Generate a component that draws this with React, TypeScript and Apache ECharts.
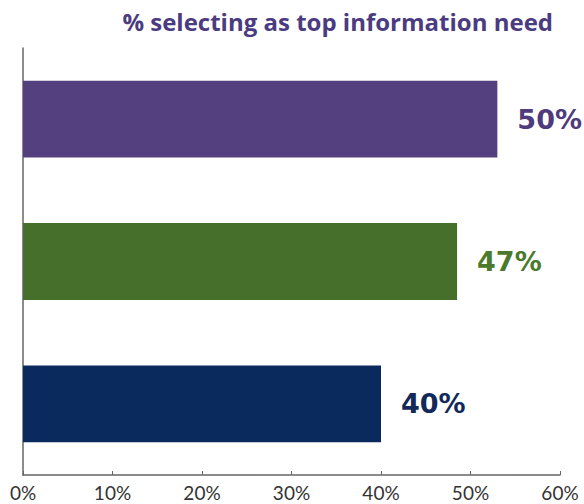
import React, { useEffect, useRef } from "react";
import * as echarts from "echarts";

const categories = ["Item A", "Item B", "Item C"];
// bar lengths as drawn in the picture (percent)
const barValues = [53, 48.5, 40];
// value labels printed beside the bars
const valueLabels = ["50%", "47%", "40%"];
const barColors = ["#55407f", "#476f2c", "#0a2a5e"];
const labelColors = ["#4e3a7c", "#4b7a2c", "#13295a"];
const xTicks = [0, 10, 20, 30, 40, 50, 60];
const title = "% selecting as top information need";

export default function App() {
  const ref = useRef<HTMLDivElement>(null);
  useEffect(() => {
    document.body.style.margin = "0";
    if (!ref.current) return;
    const chart = echarts.init(ref.current, null, { renderer: "svg" });
    chart.setOption({
      animation: false,
      backgroundColor: "#ffffff",
      title: {
        text: title,
        right: 26,
        top: 4,
        textStyle: {
          fontFamily: "Open Sans",
          fontWeight: "bold",
          fontSize: 24,
          color: "#4b3b80",
        },
      },
      grid: {
        left: 23,
        right: 24,
        top: 48,
        bottom: 29,
        containLabel: false,
        outerBoundsMode: "none",
      },
      xAxis: {
        type: "value",
        min: xTicks[0],
        max: xTicks[xTicks.length - 1],
        interval: 10,
        splitLine: { show: false },
        axisLine: { show: true, lineStyle: { color: "#666", width: 1.5 } },
        axisTick: { show: true, inside: true, length: 4, lineStyle: { color: "#666" } },
        axisLabel: {
          formatter: (v: number) => `${v}%`,
          fontFamily: "Lato",
          fontSize: 19,
          color: "#333",
          margin: 8,
        },
      },
      yAxis: {
        type: "category",
        data: categories,
        inverse: true,
        axisLine: { show: true, lineStyle: { color: "#666", width: 1.5 } },
        axisTick: { show: false },
        axisLabel: { show: false },
        splitLine: { show: false },
      },
      series: [
        {
          type: "bar",
          barWidth: "54%",
          data: barValues.map((v, i) => ({
            value: v,
            itemStyle: { color: barColors[i] },
            label: { color: labelColors[i] },
          })),
          label: {
            show: true,
            position: "right",
            distance: 20,
            fontFamily: "DejaVu Sans",
            fontWeight: "bold",
            fontSize: 27,
            formatter: (p: any) => valueLabels[p.dataIndex],
          },
        },
      ],
    });
    return () => chart.dispose();
  }, []);
  return <div ref={ref} style={{ width: 584, height: 504 }} />;
}
